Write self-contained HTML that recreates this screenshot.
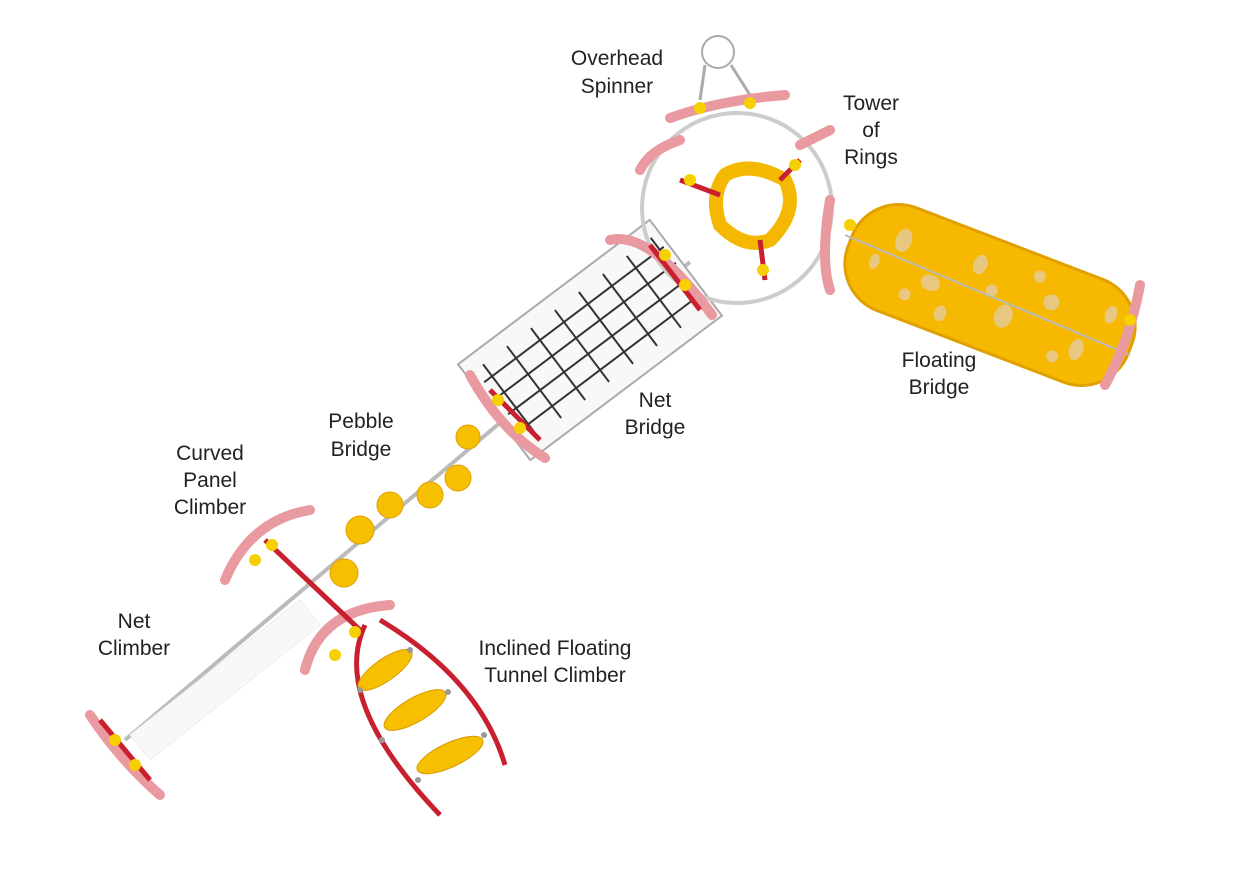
<!DOCTYPE html>
<html><head><meta charset="utf-8"><style>
html,body{margin:0;padding:0;background:#fff;width:1235px;height:872px;overflow:hidden}
svg{display:block}
text{font-family:"Liberation Sans",sans-serif;font-size:21px;fill:#222;text-anchor:middle}
</style></head><body>
<svg width="1235" height="872" viewBox="0 0 1235 872" xmlns="http://www.w3.org/2000/svg">
<!-- main beam -->
<line x1="125" y1="740" x2="690" y2="262" stroke="#bbb" stroke-width="4"/>
<!-- net climber faint -->
<polygon points="130,735 300,600 320,625 150,760" fill="#f8f8f8" stroke="#eee"/>
<!-- net bridge -->
<g transform="translate(590,340) rotate(-37)">
<rect x="-120" y="-60" width="240" height="120" fill="#f8f8f8" stroke="#aaa" stroke-width="2"/>
<g stroke="#333" stroke-width="2">
<line x1="-100" y1="-45" x2="-100" y2="45"/><line x1="-70" y1="-45" x2="-70" y2="45"/><line x1="-40" y1="-45" x2="-40" y2="45"/><line x1="-10" y1="-45" x2="-10" y2="45"/><line x1="20" y1="-45" x2="20" y2="45"/><line x1="50" y1="-45" x2="50" y2="45"/><line x1="80" y1="-45" x2="80" y2="45"/><line x1="110" y1="-45" x2="110" y2="45"/>
<line x1="-110" y1="-30" x2="115" y2="-30"/><line x1="-110" y1="-10" x2="115" y2="-10"/><line x1="-110" y1="10" x2="115" y2="10"/><line x1="-110" y1="30" x2="115" y2="30"/>
</g></g>
<!-- tower ring -->
<circle cx="737" cy="208" r="95" fill="none" stroke="#ccc" stroke-width="4"/>
<path d="M725,175 Q750,160 785,180 Q800,210 770,240 Q745,250 720,225 Q710,195 725,175Z" fill="#fff" stroke="#f4b800" stroke-width="14"/>
<!-- spinner -->
<circle cx="718" cy="52" r="16" fill="none" stroke="#aaa" stroke-width="2"/>
<line x1="705" y1="65" x2="700" y2="100" stroke="#aaa" stroke-width="3"/><line x1="731" y1="65" x2="750" y2="95" stroke="#aaa" stroke-width="3"/>
<!-- floating bridge -->
<g transform="translate(990,295) rotate(21)">
<rect x="-150" y="-55" width="300" height="110" rx="50" fill="#f6b800" stroke="#e0a000" stroke-width="3"/>
<g fill="#e8c880">
<ellipse cx="-100" cy="-20" rx="8" ry="12"/><ellipse cx="-60" cy="10" rx="10" ry="8"/><ellipse cx="-20" cy="-25" rx="7" ry="10"/><ellipse cx="20" cy="15" rx="9" ry="12"/><ellipse cx="60" cy="-15" rx="8" ry="8"/><ellipse cx="100" cy="20" rx="7" ry="11"/><ellipse cx="-80" cy="30" rx="6" ry="6"/><ellipse cx="40" cy="-35" rx="6" ry="6"/><ellipse cx="120" cy="-25" rx="6" ry="9"/>
<ellipse cx="-40" cy="35" rx="6" ry="8"/><ellipse cx="0" cy="-5" rx="6" ry="6"/><ellipse cx="80" cy="35" rx="6" ry="6"/><ellipse cx="-120" cy="10" rx="5" ry="8"/>
</g></g>
<line x1="845" y1="235" x2="1130" y2="355" stroke="#bbb" stroke-width="2"/>
<!-- pebbles -->
<g fill="#f6c000" stroke="#e0a000">
<circle cx="468" cy="437" r="12"/><circle cx="458" cy="478" r="13"/><circle cx="430" cy="495" r="13"/><circle cx="390" cy="505" r="13"/><circle cx="360" cy="530" r="14"/><circle cx="344" cy="573" r="14"/>
</g>
<!-- red end caps -->
<g fill="none" stroke="#e89aa0" stroke-width="10" stroke-linecap="round">
<path d="M670,118 Q720,100 785,95"/><path d="M640,170 Q650,150 680,140"/><path d="M800,145 Q820,135 830,130"/>
<path d="M830,200 Q820,260 830,290"/><path d="M1140,285 Q1130,340 1105,385"/>
<path d="M610,240 Q650,230 712,315"/><path d="M470,375 Q500,430 545,458"/>
<path d="M225,580 Q250,520 310,510"/><path d="M305,670 Q320,610 390,605"/><path d="M90,715 Q120,760 160,795"/>
</g>
<g stroke="#c8202e" stroke-width="5" fill="none">
<line x1="680" y1="180" x2="720" y2="195"/><line x1="800" y1="160" x2="780" y2="180"/><line x1="765" y1="280" x2="760" y2="240"/>
<line x1="650" y1="245" x2="700" y2="310"/><line x1="490" y1="390" x2="540" y2="440"/>
<line x1="265" y1="540" x2="360" y2="630"/><line x1="100" y1="720" x2="150" y2="780"/>
<path d="M365,625 Q330,700 440,815"/><path d="M380,620 Q480,680 505,765"/>
</g>
<!-- tunnel pads -->
<g fill="#f6c000" stroke="#d89a00">
<ellipse cx="385" cy="670" rx="32" ry="11" transform="rotate(-35 385 670)"/>
<ellipse cx="415" cy="710" rx="35" ry="12" transform="rotate(-30 415 710)"/>
<ellipse cx="450" cy="755" rx="36" ry="12" transform="rotate(-25 450 755)"/>
</g>
<g fill="#999"><circle cx="360" cy="690" r="3"/><circle cx="382" cy="740" r="3"/><circle cx="418" cy="780" r="3"/><circle cx="410" cy="650" r="3"/><circle cx="448" cy="692" r="3"/><circle cx="484" cy="735" r="3"/></g>
<!-- yellow joints -->
<g fill="#f6d000">
<circle cx="700" cy="108" r="6"/><circle cx="750" cy="103" r="6"/><circle cx="690" cy="180" r="6"/><circle cx="795" cy="165" r="6"/><circle cx="763" cy="270" r="6"/>
<circle cx="850" cy="225" r="6"/><circle cx="1130" cy="320" r="6"/><circle cx="665" cy="255" r="6"/><circle cx="685" cy="285" r="6"/>
<circle cx="498" cy="400" r="6"/><circle cx="520" cy="428" r="6"/><circle cx="272" cy="545" r="6"/><circle cx="255" cy="560" r="6"/>
<circle cx="355" cy="632" r="6"/><circle cx="335" cy="655" r="6"/><circle cx="115" cy="740" r="6"/><circle cx="135" cy="765" r="6"/>
</g>
<!-- labels -->
<text x="617" y="65">Overhead</text><text x="617" y="93">Spinner</text>
<text x="871" y="110">Tower</text><text x="871" y="137">of</text><text x="871" y="164">Rings</text>
<text x="939" y="367">Floating</text><text x="939" y="394">Bridge</text>
<text x="655" y="407">Net</text><text x="655" y="434">Bridge</text>
<text x="361" y="428">Pebble</text><text x="361" y="456">Bridge</text>
<text x="210" y="460">Curved</text><text x="210" y="487">Panel</text><text x="210" y="514">Climber</text>
<text x="134" y="628">Net</text><text x="134" y="655">Climber</text>
<text x="555" y="655">Inclined Floating</text><text x="555" y="682">Tunnel Climber</text>
</svg>
</body></html>
